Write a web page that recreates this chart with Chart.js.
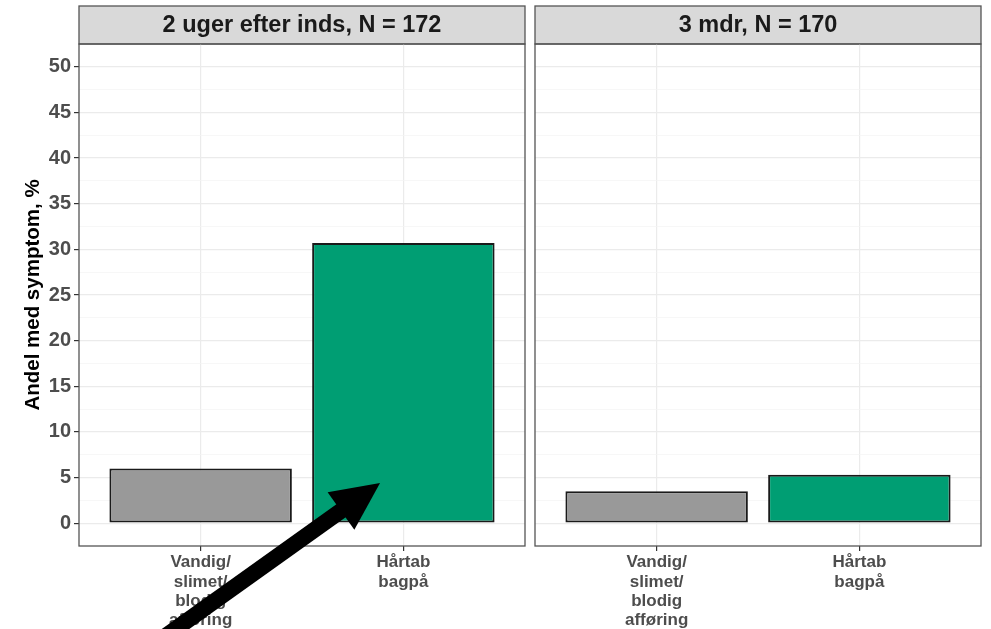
<!DOCTYPE html>
<html>
<head>
<meta charset="utf-8">
<script src="https://cdn.jsdelivr.net/npm/chart.js@4"></script>
<style>
  html, body { margin: 0; padding: 0; background: #fff; }
  body { width: 991px; height: 629px; position: relative; overflow: hidden; }
  .panel { position: absolute; top: 0; height: 629px; }
  #left { left: 0; width: 530px; }
  #right { left: 530px; width: 461px; }
</style>
</head>
<body>
<div class="panel" id="left"><canvas id="chart-left"></canvas></div>
<div class="panel" id="right"><canvas id="chart-right"></canvas></div>
<script>
const categories = [['Vandig/', 'slimet/', 'blodig', 'afføring'], ['Hårtab', 'bagpå']];
const panelTitles = ['2 uger efter inds, N = 172', '3 mdr, N = 170'];
const values2uger = [6.0, 30.7];
const values3mdr = [3.5, 5.3];
const barColors = ['#999999', '#009E73'];
const yTicks = [0, 5, 10, 15, 20, 25, 30, 35, 40, 45, 50];
const yTitle = 'Andel med symptom, %';

// arrow on the first panel, in data units [x, y]: tail -> tip
const arrowFrom = [0.8, -12.8];
const arrowTo = [1.885, 4.4];

Chart.defaults.font.family = '"Liberation Sans", Arial, sans-serif';

const panelFrame = {
    id: 'panelFrame',
    beforeDraw(chart, args, opts) {
        const {ctx, chartArea: a} = chart;
        ctx.save();
        ctx.fillStyle = '#D9D9D9';
        ctx.fillRect(a.left, 6, a.right - a.left, a.top - 6);
        ctx.strokeStyle = '#555';
        ctx.lineWidth = 1.3;
        ctx.strokeRect(a.left, 6, a.right - a.left, a.top - 6);
        ctx.fillStyle = '#1A1A1A';
        ctx.font = 'bold 23.5px "Liberation Sans", Arial, sans-serif';
        ctx.textAlign = 'center';
        ctx.textBaseline = 'middle';
        ctx.fillText(opts.text, (a.left + a.right) / 2, (6 + a.top) / 2 + 1);
        ctx.restore();
    },
    afterDatasetsDraw(chart) {
        const {ctx, chartArea: a} = chart;
        ctx.save();
        ctx.strokeStyle = '#555';
        ctx.lineWidth = 1.3;
        ctx.strokeRect(a.left, a.top, a.right - a.left, a.bottom - a.top);
        ctx.restore();
    }
};

const arrowPlugin = {
    id: 'arrow',
    afterDraw(chart, args, opts) {
        if (!opts.show) return;
        const {ctx} = chart;
        const xs = chart.scales.x, ys = chart.scales.y;
        const x0 = xs.getPixelForValue(arrowFrom[0]), y0 = ys.getPixelForValue(arrowFrom[1]);
        const x1 = xs.getPixelForValue(arrowTo[0]), y1 = ys.getPixelForValue(arrowTo[1]);
        const ang = Math.atan2(y1 - y0, x1 - x0);
        const cos = Math.cos(ang), sin = Math.sin(ang);
        const headLen = 48, headHalf = 23;
        const bx = x1 - headLen * cos, by = y1 - headLen * sin;
        ctx.save();
        ctx.strokeStyle = '#000';
        ctx.fillStyle = '#000';
        ctx.lineWidth = 16;
        ctx.beginPath();
        ctx.moveTo(x0, y0);
        ctx.lineTo(bx + 4 * cos, by + 4 * sin);
        ctx.stroke();
        ctx.beginPath();
        ctx.moveTo(x1, y1);
        ctx.lineTo(bx - headHalf * sin, by + headHalf * cos);
        ctx.lineTo(bx + headHalf * sin, by - headHalf * cos);
        ctx.closePath();
        ctx.fill();
        ctx.restore();
    }
};

function makeChart(canvasId, values, title, first) {
    return new Chart(document.getElementById(canvasId), {
        type: 'bar',
        data: {
            datasets: [{
                data: values.map((v, i) => ({x: i + 1, y: v})),
                backgroundColor: barColors,
                borderColor: '#1A1A1A',
                borderWidth: 2,
                borderSkipped: false,
                barPercentage: 0.9,
                categoryPercentage: 1.0
            }]
        },
        options: {
            responsive: true,
            maintainAspectRatio: false,
            animation: false,
            layout: {
                padding: first ? {top: 44, right: 5, left: 0, bottom: 0}
                               : {top: 44, right: 10, left: 5, bottom: 0}
            },
            scales: {
                x: {
                    type: 'linear',
                    min: 0.4,
                    max: 2.6,
                    offset: false,
                    afterBuildTicks: scale => {
                        scale.ticks = categories.map((c, i) => ({value: i + 1}));
                    },
                    afterFit: scale => { scale.height = 83; },
                    border: {display: false},
                    grid: {
                        offset: false,
                        color: '#EBEBEB',
                        lineWidth: 1.2,
                        tickColor: '#333',
                        tickLength: 5
                    },
                    ticks: {
                        autoSkip: false,
                        maxRotation: 0,
                        padding: 2,
                        color: '#4D4D4D',
                        font: {size: 17, weight: 'bold', lineHeight: 1.13},
                        callback: v => categories[v - 1]
                    }
                },
                y: {
                    min: -2.5,
                    max: 52.5,
                    afterBuildTicks: scale => {
                        const t = [];
                        yTicks.forEach((v, i) => {
                            t.push({value: v});
                            if (i < yTicks.length - 1) t.push({value: (v + yTicks[i + 1]) / 2});
                        });
                        scale.ticks = t;
                    },
                    afterFit: scale => { scale.width = first ? 79 : 0; },
                    border: {display: false},
                    grid: {
                        color: c => yTicks.includes(c.tick.value) ? '#EBEBEB' : '#F3F3F3',
                        lineWidth: c => yTicks.includes(c.tick.value) ? 1.2 : 0.7,
                        tickColor: c => yTicks.includes(c.tick.value) ? '#333' : 'rgba(0,0,0,0)',
                        tickLength: 5,
                        drawTicks: first
                    },
                    ticks: {
                        display: first,
                        autoSkip: false,
                        padding: 3,
                        color: '#4D4D4D',
                        font: {size: 20, weight: 'bold'},
                        callback: v => yTicks.includes(v) ? v : ''
                    },
                    title: {
                        display: first,
                        text: yTitle,
                        color: '#000',
                        font: {size: 20.5, weight: 'bold'},
                        padding: {top: 21, bottom: 0}
                    }
                }
            },
            plugins: {
                legend: {display: false},
                tooltip: {enabled: false},
                panelFrame: {text: title},
                arrow: {show: first}
            }
        },
        plugins: [panelFrame, arrowPlugin]
    });
}

makeChart('chart-left', values2uger, panelTitles[0], true);
makeChart('chart-right', values3mdr, panelTitles[1], false);
</script>
</body>
</html>
